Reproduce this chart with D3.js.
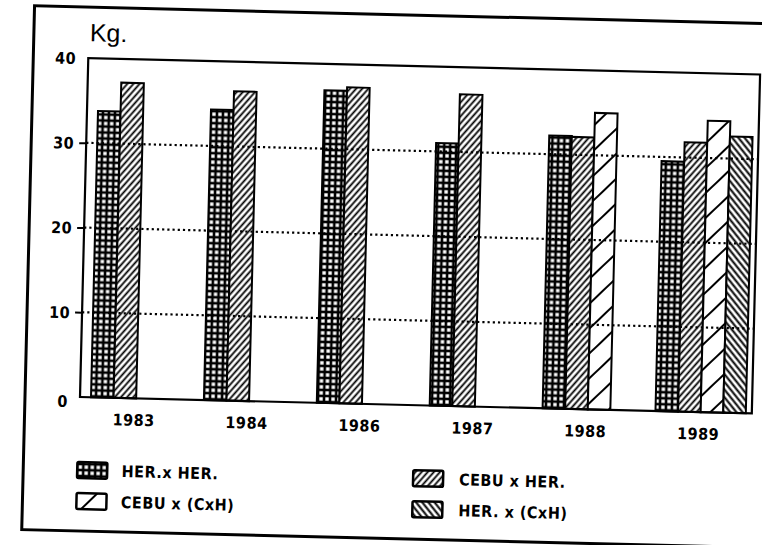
<!DOCTYPE html>
<html>
<head>
<meta charset="utf-8">
<script src="https://cdn.jsdelivr.net/npm/d3@7"></script>
<style>
  body { margin: 0; background: #fff; }
  svg { display: block; }
</style>
</head>
<body>
<svg id="chart"></svg>
<script>
// données (kg)
const years = ['1983', '1984', '1986', '1987', '1988', '1989'];
const seriesNames = ['HER.x HER.', 'CEBU x HER.', 'CEBU x (CxH)', 'HER. x (CxH)'];
const herHer  = [33.8, 34.3, 36.9, 31.0, 32.2, 29.5];
const cebuHer = [37.2, 36.5, 37.3, 36.8, 32.1, 31.8];
const cebuCxH = [null, null, null, null, 35.0, 34.4];
const herCxH  = [null, null, null, null, null, 32.6];
const yTicks = [0, 10, 20, 30, 40];
const yLabel = 'Kg.';

const allSeries = [herHer, cebuHer, cebuCxH, herCxH];
const patternIds = ['p-grid', 'p-dense', 'p-sparse', 'p-back'];

const width = 762;
const height = 545;
const font = '"DejaVu Sans Condensed", "DejaVu Sans", sans-serif';

const svg = d3.select('#chart')
    .attr('width', width)
    .attr('height', height);

// motifs de remplissage
const defs = svg.append('defs');

const grid = defs.append('pattern')
    .attr('id', 'p-grid')
    .attr('patternUnits', 'userSpaceOnUse')
    .attr('width', 6).attr('height', 6);
grid.append('rect').attr('width', 6).attr('height', 6).attr('fill', '#000');
grid.append('rect').attr('x', 1.3).attr('y', 1.3).attr('width', 3.4).attr('height', 3.4).attr('fill', '#fff');

function hatch(id, spacing, angle, sw) {
    const p = defs.append('pattern')
        .attr('id', id)
        .attr('patternUnits', 'userSpaceOnUse')
        .attr('width', spacing).attr('height', 10)
        .attr('patternTransform', `rotate(${angle})`);
    p.append('rect').attr('width', spacing).attr('height', 10).attr('fill', '#fff');
    p.append('line')
        .attr('x1', spacing / 2).attr('x2', spacing / 2)
        .attr('y1', 0).attr('y2', 10)
        .attr('stroke', '#000').attr('stroke-width', sw);
}
hatch('p-dense', 4.6, 40, 1.8);
hatch('p-sparse', 18, 45, 2);
hatch('p-back', 4.8, -40, 2);

// le document scanné est légèrement penché
const g = svg.append('g').attr('transform', 'rotate(1.4, 80, 397)');

// cadre extérieur
g.append('rect')
    .attr('x', 25).attr('y', 7)
    .attr('width', 900).attr('height', 524)
    .attr('fill', 'none')
    .attr('stroke', '#000')
    .attr('stroke-width', 3);

const x = d3.scaleBand()
    .domain(years)
    .range([91, 746])
    .paddingInner(0.2)
    .paddingOuter(0);

const xs = d3.scaleBand()
    .domain(d3.range(seriesNames.length))
    .range([0, x.bandwidth()]);

const y = d3.scaleLinear()
    .domain([0, 40])
    .range([397, 58]);

const left = 80, right = 752;

// barres
allSeries.forEach((values, i) => {
    g.append('g')
        .selectAll('rect')
        .data(years.map((yr, j) => ({ year: yr, value: values[j] })).filter(d => d.value !== null))
        .enter()
        .append('rect')
        .attr('x', d => x(d.year) + xs(i))
        .attr('y', d => y(d.value))
        .attr('width', xs.bandwidth())
        .attr('height', d => y(0) - y(d.value))
        .attr('fill', `url(#${patternIds[i]})`)
        .attr('stroke', '#000')
        .attr('stroke-width', 2);
});

// lignes pointillées
g.append('g')
    .selectAll('line')
    .data(yTicks.filter(t => t > 0 && t < 40))
    .enter()
    .append('line')
    .attr('x1', left).attr('x2', right)
    .attr('y1', d => y(d)).attr('y2', d => y(d))
    .attr('stroke', '#000')
    .attr('stroke-width', 2.2)
    .attr('stroke-dasharray', '2.2 3');

// cadre du graphique
g.append('rect')
    .attr('x', left).attr('y', y(40))
    .attr('width', right - left).attr('height', y(0) - y(40))
    .attr('fill', 'none')
    .attr('stroke', '#000')
    .attr('stroke-width', 2.2);

// axe Y
const yAxis = g.append('g')
    .attr('transform', `translate(${left},0)`)
    .call(d3.axisLeft(y).tickValues(yTicks).tickSize(7).tickPadding(5));
yAxis.select('.domain').remove();
yAxis.selectAll('.tick line')
    .attr('stroke-width', 2)
    .attr('display', d => (d === 0 || d === 40) ? 'none' : null);
yAxis.selectAll('.tick text')
    .attr('font-family', font)
    .attr('font-weight', 'bold')
    .attr('font-size', 16)
    .attr('letter-spacing', 0.5)
    .attr('dy', d => d === 0 ? '0.62em' : '0.36em');

// axe X
const xAxis = g.append('g')
    .attr('transform', `translate(-2,${y(0)})`)
    .call(d3.axisBottom(x).tickSize(0).tickPadding(16));
xAxis.select('.domain').remove();
xAxis.selectAll('.tick text')
    .attr('font-family', font)
    .attr('font-weight', 'bold')
    .attr('font-size', 16)
    .attr('letter-spacing', 0.5);

// unité
g.append('text')
    .attr('x', 81).attr('y', 41)
    .attr('font-family', '"Liberation Sans", Arial, sans-serif')
    .attr('font-size', 25)
    .text(yLabel);

// légende
const legendPos = [[79, 470], [415, 470], [79, 501], [415, 501]];
const legend = g.append('g')
    .selectAll('g')
    .data(seriesNames)
    .enter()
    .append('g')
    .attr('transform', (d, i) => `translate(${legendPos[i][0]},${legendPos[i][1]})`);

legend.append('rect')
    .attr('x', 0).attr('y', -8)
    .attr('width', 30).attr('height', 16)
    .attr('rx', 1.5)
    .attr('fill', (d, i) => `url(#${patternIds[i]})`)
    .attr('stroke', '#000')
    .attr('stroke-width', 2.5);

legend.append('text')
    .attr('x', (d, i) => i % 2 === 0 ? 44.5 : 46)
    .attr('y', 6)
    .attr('font-family', font)
    .attr('font-weight', 'bold')
    .attr('font-size', 16)
    .attr('letter-spacing', 0.5)
    .text(d => d);
</script>
</body>
</html>
